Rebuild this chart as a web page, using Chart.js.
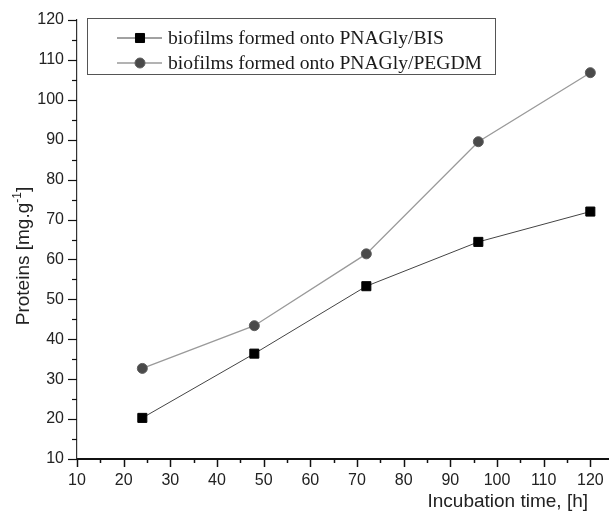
<!DOCTYPE html>
<html>
<head>
<meta charset="utf-8">
<script src="https://cdn.jsdelivr.net/npm/chart.js@4/dist/chart.umd.min.js"></script>
<style>
  html, body { margin: 0; padding: 0; background: #fff; }
  #wrap { width: 609px; height: 511px; }
</style>
</head>
<body>
<div id="wrap"><canvas id="c" width="609" height="511"></canvas></div>
<script>
// ---- data ----
const hours = [24, 48, 72, 96, 120];
const bisValues = [20.3, 36.4, 53.3, 64.4, 72.0];
const pegdmValues = [32.7, 43.4, 61.4, 89.5, 106.8];
const seriesNames = ['biofilms formed onto PNAGly/BIS', 'biofilms formed onto PNAGly/PEGDM'];
const xTitle = 'Incubation time, [h]';
const yTitleMain = 'Proteins [mg.g';
const yTitleSup = '-1';
const yTitleEnd = ']';
const xRange = [10, 124];
const yRange = [10, 120];

const toPts = (xs, ys) => xs.map((x, i) => ({x: x, y: ys[i]}));

const decorPlugin = {
  id: 'decor',
  afterDraw(chart) {
    const ctx = chart.ctx;
    const xs = chart.scales.x, ys = chart.scales.y;
    const ca = chart.chartArea;
    ctx.save();
    // minor & major ticks
    ctx.strokeStyle = '#111';
    ctx.lineWidth = 1.5;
    for (let v = 10; v <= 120; v += 5) {
      const len = v % 10 === 0 ? 8 : 4;
      const px = Math.round(xs.getPixelForValue(v)) + 0.5;
      ctx.beginPath(); ctx.moveTo(px, ca.bottom); ctx.lineTo(px, ca.bottom + len); ctx.stroke();
    }
    ctx.lineWidth = 1.2;
    for (let v = 10; v <= 120; v += 5) {
      const len = v % 10 === 0 ? 9 : 5;
      const py = Math.round(ys.getPixelForValue(v)) + 0.5;
      ctx.beginPath(); ctx.moveTo(ca.left - len, py); ctx.lineTo(ca.left, py); ctx.stroke();
    }
    // x title
    ctx.fillStyle = '#222';
    ctx.font = '19px "Liberation Sans", Arial, sans-serif';
    ctx.textAlign = 'right';
    ctx.textBaseline = 'middle';
    ctx.fillText(xTitle, 588, 502);
    // y title with superscript
    ctx.save();
    ctx.translate(22, 256);
    ctx.rotate(-Math.PI / 2);
    const fMain = '19px "Liberation Sans", Arial, sans-serif';
    const fSup = '12px "Liberation Sans", Arial, sans-serif';
    ctx.font = fMain; const w1 = ctx.measureText(yTitleMain).width; const w3 = ctx.measureText(yTitleEnd).width;
    ctx.font = fSup; const w2 = ctx.measureText(yTitleSup).width;
    let sx = -(w1 + w2 + w3) / 2;
    ctx.textAlign = 'left'; ctx.textBaseline = 'alphabetic';
    ctx.font = fMain; ctx.fillText(yTitleMain, sx, 7); sx += w1;
    ctx.font = fSup; ctx.fillText(yTitleSup, sx, -1); sx += w2;
    ctx.font = fMain; ctx.fillText(yTitleEnd, sx, 7);
    ctx.restore();
    // legend
    ctx.strokeStyle = '#555';
    ctx.lineWidth = 1;
    ctx.strokeRect(87.5, 18.5, 408, 56);
    const rows = [38, 63];
    chart.data.datasets.forEach((ds, i) => {
      const y = rows[i];
      ctx.strokeStyle = ds.borderColor;
      ctx.lineWidth = ds.borderWidth;
      ctx.beginPath(); ctx.moveTo(117, y); ctx.lineTo(162, y); ctx.stroke();
      ctx.fillStyle = ds.pointBackgroundColor;
      ctx.strokeStyle = ds.pointBorderColor;
      ctx.lineWidth = ds.pointBorderWidth;
      ctx.beginPath();
      if (ds.pointStyle === 'rect') {
        const s = ds.pointRadius * Math.SQRT1_2;
        ctx.rect(140 - s, y - s, 2 * s, 2 * s);
      } else {
        ctx.arc(140, y, ds.pointRadius, 0, Math.PI * 2);
      }
      ctx.fill(); ctx.stroke();
      ctx.fillStyle = '#1a1a1a';
      ctx.font = '19.6px "Liberation Serif", "Times New Roman", serif';
      ctx.textAlign = 'left';
      ctx.textBaseline = 'middle';
      ctx.fillText(ds.label, 168, y + 1);
    });
    ctx.restore();
  }
};

new Chart(document.getElementById('c'), {
  type: 'line',
  data: {
    datasets: [
      {
        label: seriesNames[0],
        data: toPts(hours, bisValues),
        borderColor: '#444',
        borderWidth: 1,
        pointStyle: 'rect',
        pointRadius: 6.4,
        pointBackgroundColor: '#000',
        pointBorderColor: '#000',
        pointBorderWidth: 1,
        tension: 0
      },
      {
        label: seriesNames[1],
        data: toPts(hours, pegdmValues),
        borderColor: '#9a9a9a',
        borderWidth: 1.3,
        pointStyle: 'circle',
        pointRadius: 5,
        pointBackgroundColor: '#4a4a4a',
        pointBorderColor: '#5e5e5e',
        pointBorderWidth: 1,
        tension: 0
      }
    ]
  },
  options: {
    responsive: false,
    animation: false,
    events: [],
    layout: { autoPadding: false, padding: { top: 20, right: 0, left: 0, bottom: 0 } },
    plugins: { legend: { display: false }, tooltip: { enabled: false }, title: { display: false } },
    scales: {
      x: {
        type: 'linear',
        min: xRange[0], max: xRange[1],
        grid: { display: false, drawTicks: false },
        border: { display: true, color: '#111', width: 2 },
        ticks: {
          stepSize: 10, includeBounds: false, padding: 0,
          color: '#222',
          font: {family: '"Liberation Sans", Arial, sans-serif', size: 16, lineHeight: '44px'},
          maxRotation: 0, minRotation: 0, autoSkip: false,
          callback: v => (v <= 120 ? String(v) : '')
        },
        afterFit(s) { s.height = 52; s.paddingLeft = 0; s.paddingRight = 0; }
      },
      y: {
        type: 'linear',
        min: yRange[0], max: yRange[1],
        grid: { display: false, drawTicks: false },
        border: { display: true, color: '#333', width: 1.2 },
        ticks: {
          stepSize: 10, padding: 13, color: '#222',
          font: {family: '"Liberation Sans", Arial, sans-serif', size: 16},
          autoSkip: false,
          callback: v => String(v)
        },
        afterFit(s) { s.width = 77; s.paddingTop = 0; s.paddingBottom = 0; }
      }
    }
  },
  plugins: [decorPlugin]
});
</script>
</body>
</html>
